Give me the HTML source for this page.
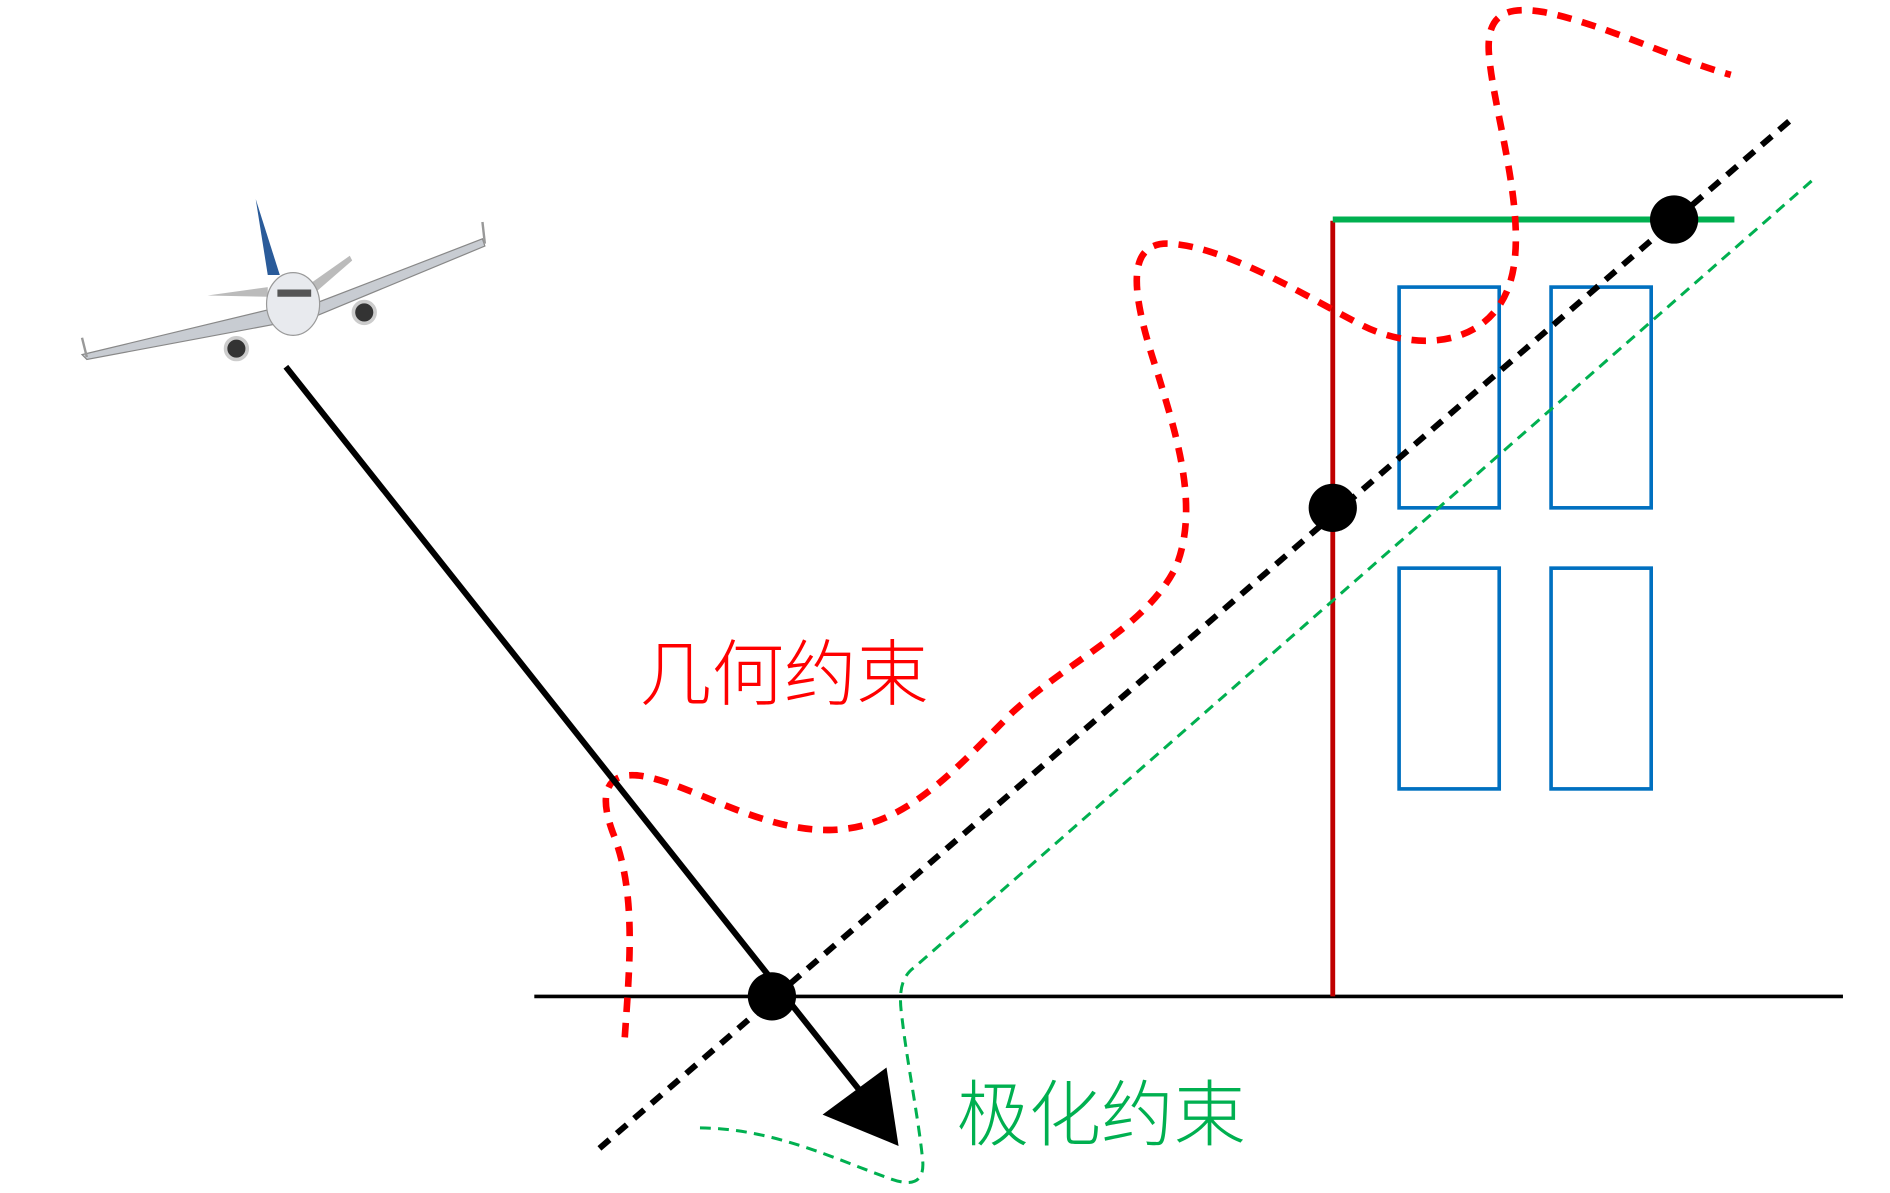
<!DOCTYPE html>
<html><head><meta charset="utf-8"><style>html,body{margin:0;padding:0;background:#fff}svg{display:block}</style></head>
<body>
<svg width="1890" height="1193" viewBox="0 0 1567 989" preserveAspectRatio="none" xmlns="http://www.w3.org/2000/svg">
<rect width="1567" height="989" fill="#fff"/>
<line x1="443" y1="826" x2="1528" y2="826" stroke="#000" stroke-width="3"/>
<line x1="1105" y1="183" x2="1105" y2="826" stroke="#c00000" stroke-width="4"/>
<line x1="1105" y1="182" x2="1438" y2="182" stroke="#00b050" stroke-width="5"/>
<g fill="none" stroke="#0070c0" stroke-width="3">
<rect x="1160" y="238" width="83" height="183"/><rect x="1286" y="238" width="83" height="183"/>
<rect x="1160" y="471" width="83" height="183"/><rect x="1286" y="471" width="83" height="183"/>
</g>
<path d="M1502 150 L758 802 C744 812 746 830 748 845 C752 880 762 930 765 962 C767 985 750 982 735 976 C690 960 640 935 578 935" fill="none" stroke="#00b050" stroke-width="2.5" stroke-dasharray="9,6"/>
<line x1="497" y1="952" x2="1484" y2="100" stroke="#000" stroke-width="5" stroke-dasharray="11,8"/>
<path d="M518 860 C522 800 528 740 508 690 C495 655 505 640 530 643 C570 648 630 690 690 688 C750 686 790 640 840 590 C890 545 950 520 975 470 C995 420 975 360 960 310 C940 250 930 200 970 202 C1020 205 1090 250 1130 270 C1170 290 1230 290 1250 240 C1270 190 1240 100 1235 50 C1230 10 1250 5 1280 10 C1330 20 1390 50 1435 62" fill="none" stroke="#ff0000" stroke-width="5.5" stroke-dasharray="12,9"/>
<line x1="237" y1="304" x2="712" y2="903" stroke="#000" stroke-width="5"/>
<polygon points="682,924 735,885 745,950" fill="#000"/>
<circle cx="640" cy="826" r="20" fill="#000"/>
<circle cx="1105" cy="421" r="20" fill="#000"/>
<circle cx="1388" cy="182" r="20" fill="#000"/>
<g>
<polygon points="68,294 230,255 260,252 400,198 402,204 262,262 232,268 72,298" fill="#c8ccd2" stroke="#888" stroke-width="1"/>
<polygon points="212,165 222,228 232,228" fill="#2a5b9a"/>
<polygon points="172,245 222,238 222,246" fill="#bbb"/>
<polygon points="256,236 290,212 292,216 262,242" fill="#bbb"/>
<ellipse cx="243" cy="252" rx="22" ry="26" fill="#e8eaee" stroke="#999"/>
<rect x="230" y="240" width="28" height="6" fill="#555"/>
<circle cx="196" cy="289" r="9" fill="#333" stroke="#ccc" stroke-width="3"/>
<circle cx="302" cy="259" r="9" fill="#333" stroke="#ccc" stroke-width="3"/>
<line x1="68" y1="280" x2="72" y2="296" stroke="#999" stroke-width="2"/>
<line x1="400" y1="184" x2="402" y2="202" stroke="#999" stroke-width="2"/>
</g>
<text x="530" y="580" font-family="'Liberation Sans','Noto Sans CJK SC',sans-serif" font-size="60" fill="#ff0000" font-weight="300">几何约束</text>
<text x="793" y="945" font-family="'Liberation Sans','Noto Sans CJK SC',sans-serif" font-size="60" fill="#00b050" font-weight="300">极化约束</text>
</svg>
</body></html>
